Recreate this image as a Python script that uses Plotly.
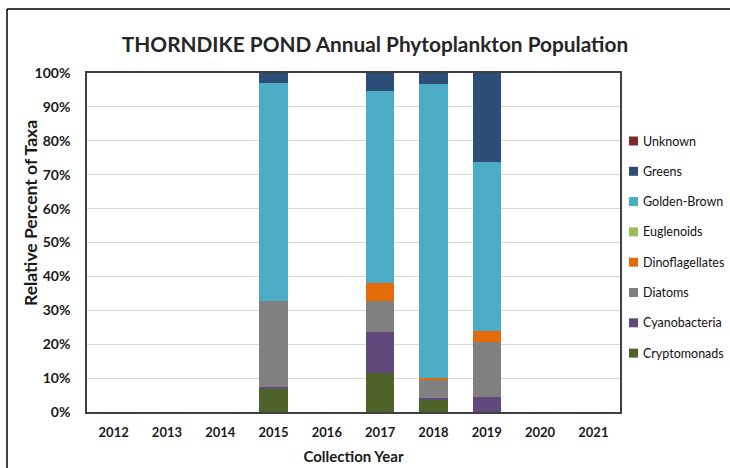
import plotly.graph_objects as go

years = ["2012", "2013", "2014", "2015", "2016", "2017", "2018", "2019", "2020", "2021"]

# Relative percent of taxa per year (stacked bottom -> top)
cryptomonads    = [0, 0, 0, 6.7, 0, 11.5, 3.4, 0.0, 0, 0]
cyanobacteria   = [0, 0, 0, 0.7, 0, 12.2, 0.8, 4.5, 0, 0]
diatoms         = [0, 0, 0, 25.4, 0, 8.9, 5.3, 16.2, 0, 0]
dinoflagellates = [0, 0, 0, 0.0, 0, 5.4, 0.6, 3.3, 0, 0]
euglenoids      = [0, 0, 0, 0.0, 0, 0.0, 0.0, 0.0, 0, 0]
golden_brown    = [0, 0, 0, 64.3, 0, 56.8, 86.6, 49.8, 0, 0]
greens          = [0, 0, 0, 2.9, 0, 5.2, 3.3, 26.2, 0, 0]
unknown         = [0, 0, 0, 0.0, 0, 0.0, 0.0, 0.0, 0, 0]

series = [
    ("Cryptomonads", cryptomonads, "#4F6228"),
    ("Cyanobacteria", cyanobacteria, "#604A7B"),
    ("Diatoms", diatoms, "#808080"),
    ("Dinoflagellates", dinoflagellates, "#E36C09"),
    ("Euglenoids", euglenoids, "#9BBB59"),
    ("Golden-Brown", golden_brown, "#4BACC6"),
    ("Greens", greens, "#2C4D75"),
    ("Unknown", unknown, "#7B2C2A"),
]

FONT = "Lato, Liberation Sans, Arial, sans-serif"

fig = go.Figure()
for name, vals, color in series:
    fig.add_trace(go.Bar(
        x=years, y=vals, name=name, showlegend=False,
        marker=dict(color=color, line=dict(width=0)),
    ))

L, R, T, B = 87, 110, 73, 56
PW, PH = 730 - L - R, 468 - T - B

def px_x(x):
    return (x - L) / PW

def px_y(y):
    return (468 - B - y) / PH

fig.update_layout(
    barmode="stack",
    bargap=0.47,
    width=730, height=468,
    margin=dict(l=L, r=R, t=T, b=B, autoexpand=False),
    paper_bgcolor="white",
    plot_bgcolor="white",
    font=dict(family=FONT, color="#1a1a1a"),
    title=dict(
        text="<b>THORNDIKE POND Annual Phytoplankton Population</b>",
        x=(375) / 730, xanchor="center", y=1 - 45 / 468, yanchor="middle",
        font=dict(size=20.8, family=FONT, color="#262626"),
    ),
    xaxis=dict(
        type="category",
        showline=True, linecolor="#404040", linewidth=1.5, mirror=True,
        ticks="", tickfont=dict(size=13, family=FONT, color="#1a1a1a"),
        tickprefix="<b>", ticksuffix="</b>",
        ticklabelstandoff=8,
        title=dict(text="<b>Collection Year</b>", font=dict(size=15, family=FONT, color="#1a1a1a"), standoff=12),
    ),
    yaxis=dict(
        range=[0, 100],
        tickvals=[0, 10, 20, 30, 40, 50, 60, 70, 80, 90, 100],
        ticktext=["<b>%d%%</b>" % v for v in [0, 10, 20, 30, 40, 50, 60, 70, 80, 90, 100]],
        showgrid=True, gridcolor="#D9D9D9", gridwidth=1,
        showline=True, linecolor="#404040", linewidth=1.5, mirror=True,
        ticks="", ticklen=0,
        tickfont=dict(size=14, family=FONT, color="#1a1a1a"),
        ticklabelstandoff=12,
        zeroline=False,
    ),
)

# Y-axis title
fig.add_annotation(xref="paper", yref="paper", x=px_x(30), y=px_y(213),
                   xanchor="center", yanchor="middle", showarrow=False, textangle=-90,
                   text="<b>Relative Percent of Taxa</b>",
                   font=dict(size=17.5, family=FONT, color="#1a1a1a"))

# Legend drawn beside the plot, top entry = last stacked series
leg_x0 = 629      # px
leg_y0 = 141      # px, centre of first entry
leg_dy = 30.3     # px between entries
sq = 9
for k, (name, vals, color) in enumerate(reversed(series)):
    cy = leg_y0 + k * leg_dy
    fig.add_shape(type="rect", xref="paper", yref="paper",
                  x0=px_x(leg_x0), x1=px_x(leg_x0 + sq),
                  y0=px_y(cy + sq / 2), y1=px_y(cy - sq / 2),
                  fillcolor=color, line=dict(width=0))
    fig.add_annotation(xref="paper", yref="paper",
                       x=px_x(leg_x0 + sq + 3), y=px_y(cy),
                       xanchor="left", yanchor="middle", showarrow=False,
                       text=name, font=dict(size=12.5, family=FONT, color="#111111"))

# Outer chart frame (left and top edges)
fig.add_shape(type="line", xref="paper", yref="paper",
              x0=px_x(7), x1=px_x(7), y0=px_y(468), y1=px_y(9),
              line=dict(color="black", width=1.5))
fig.add_shape(type="line", xref="paper", yref="paper",
              x0=px_x(7), x1=px_x(730), y0=px_y(9), y1=px_y(9),
              line=dict(color="black", width=1.5))

fig.write_html("out.html")
